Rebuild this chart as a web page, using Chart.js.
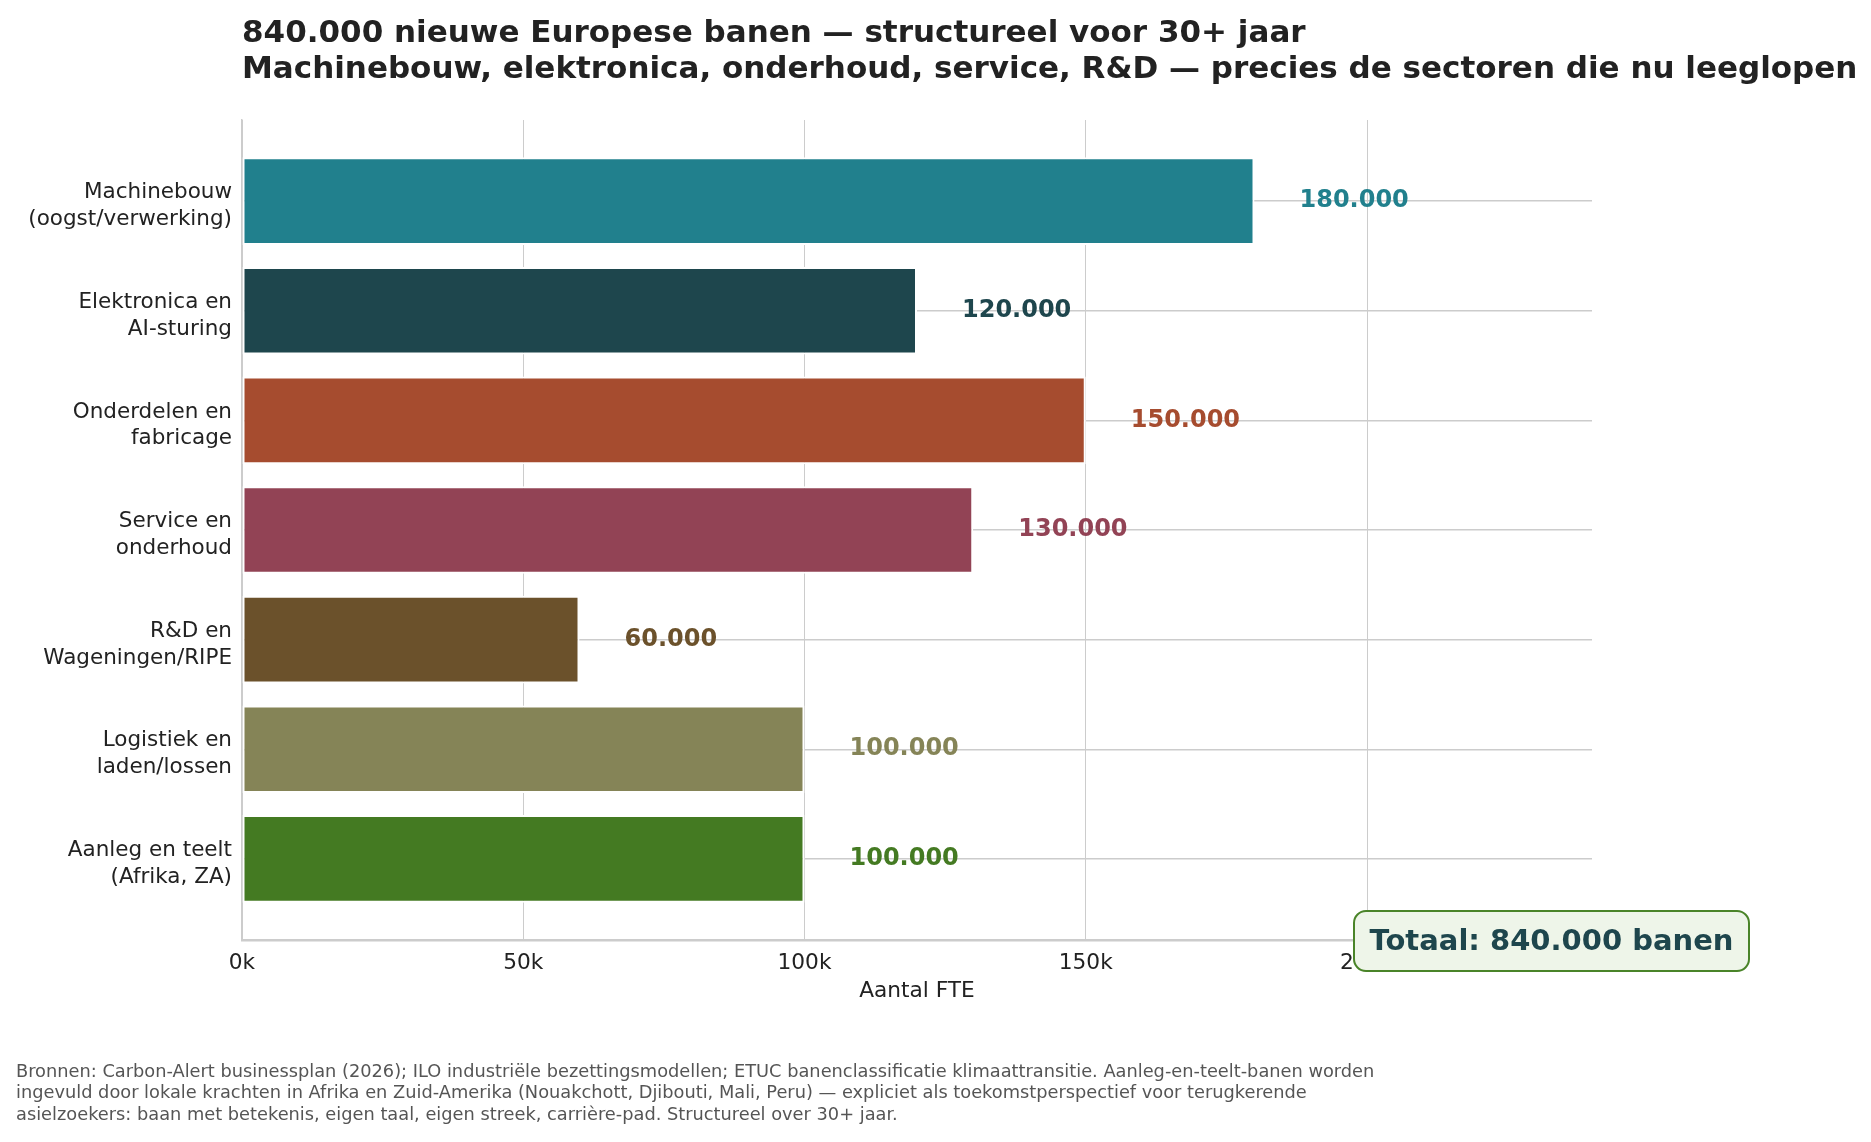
<!DOCTYPE html>
<html>
<head>
<meta charset="utf-8">
<script src="https://cdn.jsdelivr.net/npm/chart.js@4.4.1/dist/chart.umd.min.js"></script>
<style>
html,body{margin:0;padding:0;background:#fff;}
#wrap{width:1871px;height:1142px;position:relative;}
</style>
</head>
<body>
<div id="wrap"><canvas id="c" width="1871" height="1142"></canvas></div>
<script>
const categories = [
  ["Machinebouw", "(oogst/verwerking)"],
  ["Elektronica en", "AI-sturing"],
  ["Onderdelen en", "fabricage"],
  ["Service en", "onderhoud"],
  ["R&D en", "Wageningen/RIPE"],
  ["Logistiek en", "laden/lossen"],
  ["Aanleg en teelt", "(Afrika, ZA)"]
];
const jobs = [180000, 120000, 150000, 130000, 60000, 100000, 100000];
const barColors = ["#21808d", "#1e464d", "#a64c2f", "#924355", "#6b512b", "#858457", "#447a22"];
const xTicks = [0, 50000, 100000, 150000, 200000];
const titleLines = [
  "840.000 nieuwe Europese banen — structureel voor 30+ jaar",
  "Machinebouw, elektronica, onderhoud, service, R&D — precies de sectoren die nu leeglopen"
];
const xAxisTitle = "Aantal FTE";
const totalLabel = "Totaal: 840.000 banen";
const footnote = [
  "Bronnen: Carbon-Alert businessplan (2026); ILO industriële bezettingsmodellen; ETUC banenclassificatie klimaattransitie. Aanleg-en-teelt-banen worden",
  "ingevuld door lokale krachten in Afrika en Zuid-Amerika (Nouakchott, Djibouti, Mali, Peru) — expliciet als toekomstperspectief voor terugkerende",
  "asielzoekers: baan met betekenis, eigen taal, eigen streek, carrière-pad. Structureel over 30+ jaar."
];

const FONT = "'DejaVu Sans', sans-serif";
const fmt = v => String(v).replace(/\B(?=(\d{3})+(?!\d))/g, ".");

const PLOT = {left: 242, top: 120, right: 1592, bottom: 940};

const overlay = {
  id: 'overlay',
  afterDatasetsDraw(chart) {
    const ctx = chart.ctx;
    const xs = chart.scales.x, ys = chart.scales.y;
    ctx.save();
    ctx.font = "bold 24px " + FONT;
    ctx.textAlign = "left";
    ctx.textBaseline = "middle";
    jobs.forEach((v, i) => {
      ctx.fillStyle = barColors[i];
      ctx.fillText(fmt(v), xs.getPixelForValue(v + 8000), ys.getPixelForValue(i));
    });
    ctx.restore();
  },
  afterDraw(chart) {
    const ctx = chart.ctx;
    const ca = chart.chartArea;
    ctx.save();
    // title
    ctx.fillStyle = "#222222";
    ctx.font = "bold 31px " + FONT;
    ctx.textAlign = "left";
    ctx.textBaseline = "middle";
    ctx.fillText(titleLines[0], ca.left, 34);
    ctx.fillText(titleLines[1], ca.left, 70);
    // x axis title
    ctx.font = "21.7px " + FONT;
    ctx.textAlign = "center";
    ctx.fillStyle = "#222222";
    ctx.fillText(xAxisTitle, (ca.left + ca.right) / 2, 991);
    // footnote
    ctx.font = "17.8px " + FONT;
    ctx.textAlign = "left";
    ctx.fillStyle = "#555555";
    footnote.forEach((l, i) => ctx.fillText(l, 16, 1072 + i * 21.5));
    // total box
    const bx = 1354, by = 911, bw = 395, bh = 60, r = 12;
    ctx.beginPath();
    ctx.moveTo(bx + r, by);
    ctx.arcTo(bx + bw, by, bx + bw, by + bh, r);
    ctx.arcTo(bx + bw, by + bh, bx, by + bh, r);
    ctx.arcTo(bx, by + bh, bx, by, r);
    ctx.arcTo(bx, by, bx + bw, by, r);
    ctx.closePath();
    ctx.fillStyle = "#eef5e9";
    ctx.fill();
    ctx.lineWidth = 2;
    ctx.strokeStyle = "#4a8429";
    ctx.stroke();
    ctx.font = "bold 29px " + FONT;
    ctx.textAlign = "center";
    ctx.fillStyle = "#1e464d";
    ctx.fillText(totalLabel, bx + bw / 2, by + bh / 2 + 1);
    ctx.restore();
  }
};

new Chart(document.getElementById('c'), {
  type: 'bar',
  data: {
    datasets: [{
      data: jobs.map((v, i) => ({x: v, y: i})),
      backgroundColor: barColors,
      borderColor: "#ffffff",
      borderWidth: 2,
      borderSkipped: false,
      barPercentage: 0.8,
      categoryPercentage: 1.0
    }]
  },
  options: {
    indexAxis: 'y',
    responsive: false,
    animation: false,
    devicePixelRatio: 1,
    layout: {padding: {left: 0, right: 1871 - PLOT.right, top: PLOT.top, bottom: 0}},
    plugins: {legend: {display: false}, tooltip: {enabled: false}, title: {display: false}},
    scales: {
      x: {
        type: 'linear',
        min: 0, max: 240000,
        afterBuildTicks: s => { s.ticks = xTicks.map(v => ({value: v})); },
        afterFit: s => { s.height = 1142 - PLOT.bottom; },
        grid: {color: "#cccccc", lineWidth: 1, drawTicks: false},
        border: {display: true, color: "#cccccc", width: 2.5},
        ticks: {
          padding: 10,
          color: "#222222",
          font: {family: FONT, size: 21.7},
          callback: v => (v / 1000) + "k"
        }
      },
      y: {
        type: 'linear',
        min: -0.74, max: 6.74,
        reverse: true,
        offset: false,
        afterBuildTicks: s => { s.ticks = categories.map((c, i) => ({value: i})); },
        afterFit: s => { s.width = PLOT.left; },
        grid: {color: "#cccccc", lineWidth: 1.5, drawTicks: false, offset: false},
        border: {display: true, color: "#cccccc", width: 1.5},
        ticks: {
          padding: 10,
          labelOffset: 5,
          color: "#222222",
          font: {family: FONT, size: 21.5, lineHeight: 1.25},
          callback: v => categories[v] || ""
        }
      }
    }
  },
  plugins: [overlay]
});
</script>
</body>
</html>
